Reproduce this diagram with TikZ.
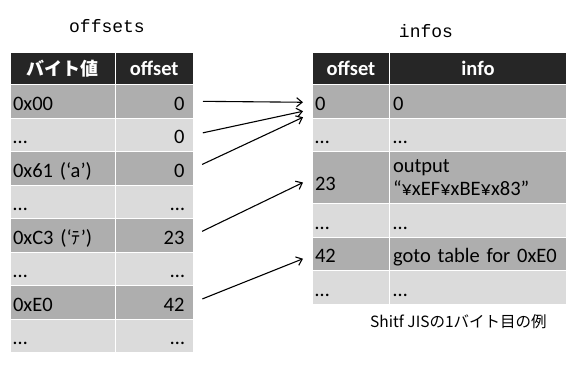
\documentclass[tikz,border=0pt]{standalone}
\usepackage{fontspec}
\setmainfont{Carlito}
\newfontfamily\jp{Noto Sans CJK JP}
\newfontfamily\monofam{Liberation Mono}
\usetikzlibrary{arrows.meta,calc}
\definecolor{hdr}{HTML}{262626}
\definecolor{dk}{HTML}{AEAEAE}
\definecolor{lt}{HTML}{DBDBDB}
\tikzset{
  cellbase/.style={anchor=north west, draw=white, line width=1pt, inner xsep=2.5pt, inner ysep=0pt,
    font=\fontsize{20.5}{23}\selectfont, minimum height=33.5pt},
  cell/.style={cellbase, text height=18pt, text depth=0pt},
  hd/.style={cell, fill=hdr, text=white, font=\fontsize{20.5}{23}\selectfont\bfseries, align=center,
    minimum height=32pt, text height=14pt},
  lca/.style={text width=99.5pt, align=left},
  lcb/.style={inner xsep=9pt, text width=60.5pt, align=right},
  rca/.style={text width=72pt, align=left},
  rcb/.style={inner xsep=3.5pt, text width=170pt, align=left},
  title/.style={font=\monofam\fontsize{18}{20}\selectfont, inner sep=0pt},
  link/.style={line width=1.1pt, -{Straight Barb[length=5.5pt,width=9pt]}, shorten <=9pt},
}
\begin{document}
\begin{tikzpicture}[x=1pt,y=1pt]
\useasboundingbox (0,0) rectangle (566,-365);
% titles
\node[title] (tl) at (107,-26) {offsets};
\node[title] (tr) at (426,-31) {infos};
% left table
\node[hd, lca, align=center] (lh1) at (10,-52) {{\jp\bfseries\fontsize{18}{20}\selectfont バイト値}};
\node[hd, lcb, align=center, inner xsep=2.5pt, text width=73.5pt] (lh2) at (114.5,-52) {offset};
\node[cell, lca, fill=dk] (la1) at (10,-84) {0x00};
\node[cell, lcb, fill=dk] (lb1) at (114.5,-84) {0};
\node[cell, lca, fill=lt] (la2) at (10,-117.5) {…};
\node[cell, lcb, fill=lt] (lb2) at (114.5,-117.5) {0};
\node[cell, lca, fill=dk] (la3) at (10,-151) {0x61 (‘a’)};
\node[cell, lcb, fill=dk] (lb3) at (114.5,-151) {0};
\node[cell, lca, fill=lt] (la4) at (10,-184.5) {…};
\node[cell, lcb, fill=lt] (lb4) at (114.5,-184.5) {…};
\node[cell, lca, fill=dk] (la5) at (10,-218) {0xC3 (‘{\jp\fontsize{18}{20}\selectfont ﾃ}’)};
\node[cell, lcb, fill=dk] (lb5) at (114.5,-218) {23};
\node[cell, lca, fill=lt] (la6) at (10,-251.5) {…};
\node[cell, lcb, fill=lt] (lb6) at (114.5,-251.5) {…};
\node[cell, lca, fill=dk] (la7) at (10,-285) {0xE0};
\node[cell, lcb, fill=dk] (lb7) at (114.5,-285) {42};
\node[cell, lca, fill=lt] (la8) at (10,-318.5) {…};
\node[cell, lcb, fill=lt] (lb8) at (114.5,-318.5) {…};
% right table
\node[hd, rca, align=center] (rh1) at (312,-52) {offset};
\node[hd, rcb, align=center] (rh2) at (389,-52) {info};
\node[cell, rca, fill=dk] (ra1) at (312,-84) {0};
\node[cell, rcb, fill=dk] (rb1) at (389,-84) {0};
\node[cell, rca, fill=lt] (ra2) at (312,-117.5) {…};
\node[cell, rcb, fill=lt] (rb2) at (389,-117.5) {…};
\node[cell, rca, fill=dk, minimum height=52pt, text height=26pt] (ra3) at (312,-151) {23};
\node[cellbase, rcb, fill=dk, minimum height=52pt] (rb3) at (389,-151) {output\\“¥xEF¥xBE¥x83”};
\node[cell, rca, fill=lt] (ra4) at (312,-203) {…};
\node[cell, rcb, fill=lt] (rb4) at (389,-203) {…};
\node[cell, rca, fill=dk] (ra5) at (312,-236.5) {42};
\node[cell, rcb, fill=dk] (rb5) at (389,-236.5) {goto table for 0xE0};
\node[cell, rca, fill=lt, minimum height=34pt] (ra6) at (312,-270) {…};
\node[cell, rcb, fill=lt, minimum height=34pt] (rb6) at (389,-270) {…};
% caption
\node[anchor=west, inner sep=0pt, font=\jp\fontsize{15.5}{17}\selectfont] (cap) at (370,-322) {Shitf JISの1バイト目の例};
% arrow targets
\coordinate (t1) at ($(ra1.west)+(-9pt,-1pt)$);
\coordinate (t2) at ($(ra1.west)+(-9pt,-10pt)$);
\coordinate (t3) at ($(ra1.west)+(-9pt,-16pt)$);
\coordinate (t4) at ($(ra3.west)+(-9pt,-5pt)$);
\coordinate (t5) at ($(ra5.west)+(-9pt,-5pt)$);
\draw[link] (lb1.east) -- (t1);
\draw[link] (lb2.east) -- (t2);
\draw[link] (lb3.east) -- (t3);
\draw[link] (lb5.east) -- (t4);
\draw[link] (lb7.east) -- (t5);
\end{tikzpicture}
\end{document}
